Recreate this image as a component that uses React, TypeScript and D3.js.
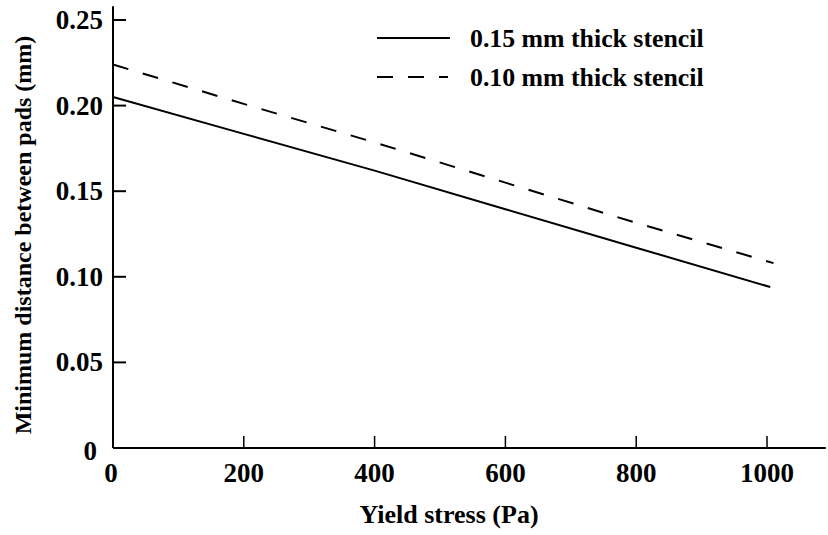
import React from "react";
import * as d3 from "d3";

const xTicks = [0, 200, 400, 600, 800, 1000];
const yTicks = [0, 0.05, 0.1, 0.15, 0.2, 0.25];
const yTickLabels = ["0", "0.05", "0.10", "0.15", "0.20", "0.25"];

const solidX = [0, 200, 400, 600, 800, 1005];
const solidY = [0.205, 0.1835, 0.162, 0.1395, 0.117, 0.094];
const dashedX = [0, 200, 400, 600, 800, 1010];
const dashedY = [0.224, 0.201, 0.1785, 0.155, 0.1315, 0.108];

const seriesNames = ["0.15 mm thick stencil", "0.10 mm thick stencil"];

const FONT = "'Liberation Serif', 'DejaVu Serif', serif";

export default function App() {
  const W = 828, H = 535;
  const x = d3.scaleLinear().domain([0, 1000]).range([113, 767]);
  const y = d3.scaleLinear().domain([0, 0.25]).range([448, 20]);
  const line = d3.line<[number, number]>().x(d => x(d[0])).y(d => y(d[1]));
  const solid = solidX.map((v, i) => [v, solidY[i]] as [number, number]);
  const dashed = dashedX.map((v, i) => [v, dashedY[i]] as [number, number]);
  const x0 = x(0), y0 = y(0);

  return (
    <svg width={W} height={H} style={{ position: "absolute", left: 0, top: 0, background: "#fff" }} fontFamily={FONT} fontWeight="bold">
      {/* axes */}
      <line x1={x0} x2={x0} y1={y(0.258)} y2={y0} stroke="#000" strokeWidth={2} />
      <line x1={x0} x2={x(1090)} y1={y0} y2={y0} stroke="#000" strokeWidth={2} />
      {yTicks.map((t, i) => (
        <g key={"y" + i}>
          {i > 0 && <line x1={x0} x2={x0 + 13} y1={y(t)} y2={y(t)} stroke="#000" strokeWidth={2} />}
          <text x={i === 0 ? 97 : 103} y={y(t) + (i === 0 ? 12 : 9)} textAnchor="end" fontSize={27} fill="#000">{yTickLabels[i]}</text>
        </g>
      ))}
      {xTicks.map((t, i) => (
        <g key={"x" + i}>
          {i > 0 && <line x1={x(t)} x2={x(t)} y1={y0} y2={y0 - 12} stroke="#000" strokeWidth={1.5} />}
          <text x={x(t) - (i === 0 ? 2 : 0)} y={482} textAnchor="middle" fontSize={27} fill="#000">{t}</text>
        </g>
      ))}
      {/* series */}
      <path d={line(solid) || ""} fill="none" stroke="#000" strokeWidth={2} />
      <path d={line(dashed) || ""} fill="none" stroke="#000" strokeWidth={2} strokeDasharray="16 15" />
      {/* legend */}
      <line x1={377} x2={450} y1={38} y2={38} stroke="#000" strokeWidth={2} />
      <text x={470} y={47} fontSize={25.8} fill="#000">{seriesNames[0]}</text>
      <line x1={377} x2={448} y1={77} y2={77} stroke="#000" strokeWidth={2} strokeDasharray="16 15" />
      <text x={470} y={86} fontSize={25.8} fill="#000">{seriesNames[1]}</text>
      {/* axis titles */}
      <text x={449} y={523} textAnchor="middle" fontSize={26} fill="#000">Yield stress (Pa)</text>
      <text transform="translate(31,235) rotate(-90)" textAnchor="middle" fontSize={24} fill="#000">Minimum distance between pads (mm)</text>
    </svg>
  );
}
